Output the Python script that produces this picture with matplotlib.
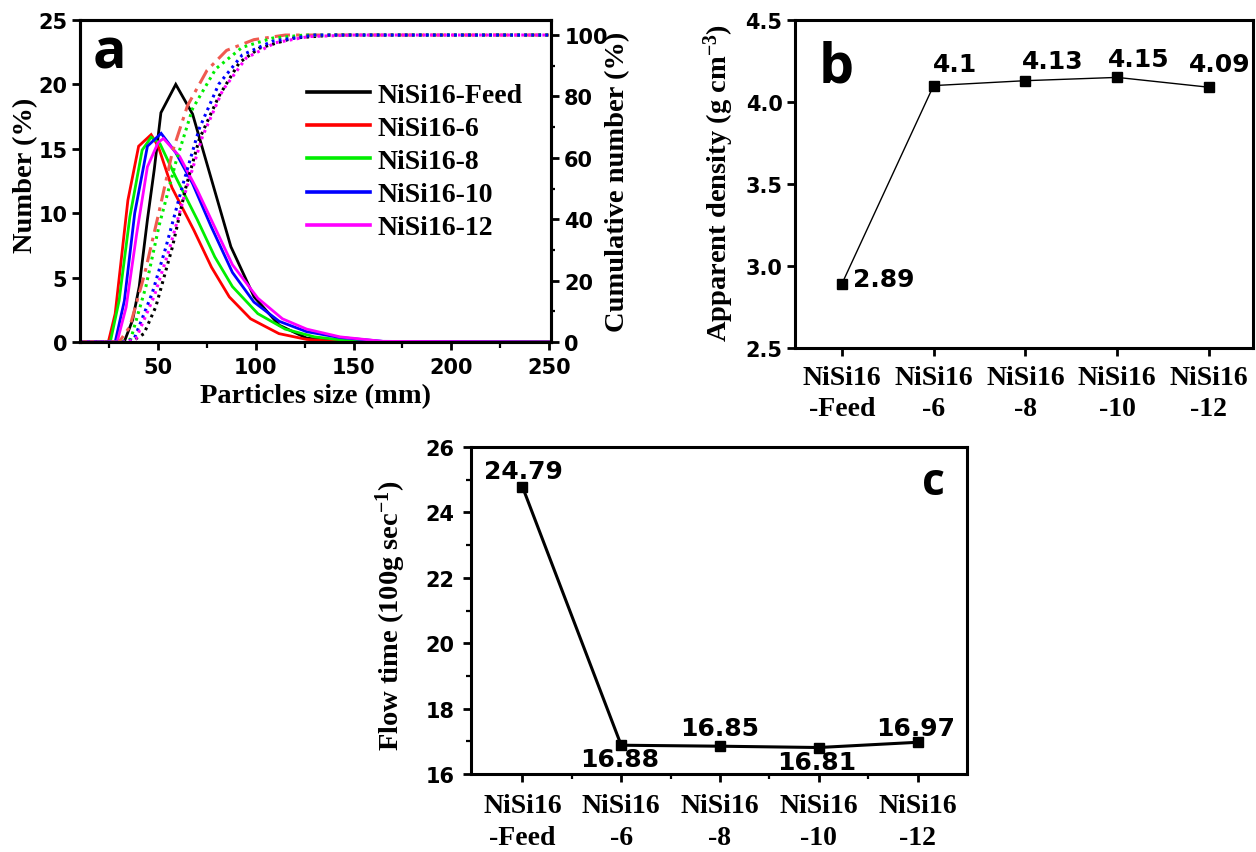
import matplotlib
matplotlib.use('Agg')
import matplotlib.pyplot as plt
from matplotlib.lines import Line2D

plt.rcParams['mathtext.default'] = 'regular'

# ---------------- Panel a data: number distribution (%) ----------------
size_feed = [10, 32.6, 36.9, 40.3, 44.5, 48, 51.4, 59, 67.6, 87.2, 99.1, 112, 126, 145, 250]
num_feed = [0, 0, 1.7, 4.3, 9.5, 13.4, 17.8, 20.0, 17.7, 7.4, 3.5, 1.3, 0.3, 0, 0]

size_6 = [10, 24.5, 28, 34.5, 40, 46.4, 50, 57, 68.2, 77.3, 86.4, 97.3, 111.8, 126, 145, 250]
num_6 = [0, 0, 2.2, 11.0, 15.2, 16.1, 15.2, 12.0, 8.7, 5.8, 3.5, 1.8, 0.65, 0.2, 0, 0]

size_8 = [10, 25.5, 30, 35.5, 41.8, 46.4, 50.9, 59, 70, 79, 88, 101, 115, 130, 150, 250]
num_8 = [0, 0, 3.2, 9.7, 14.9, 15.9, 15.4, 12.8, 9.5, 6.6, 4.3, 2.2, 1.0, 0.4, 0.05, 0]

size_10 = [10, 28, 32.7, 38, 44.5, 51.5, 59, 67.6, 77, 88, 99, 112, 126, 143, 165, 250]
num_10 = [0, 0, 3.2, 10.0, 15.2, 16.2, 14.7, 12.3, 9.0, 5.4, 3.1, 1.6, 0.8, 0.35, 0.05, 0]

size_12 = [10, 29, 33.6, 39, 44.5, 50, 52.7, 61, 70, 79, 88, 101, 113.6, 126, 143, 165, 250]
num_12 = [0, 0, 2.7, 8.4, 13.6, 15.5, 15.8, 14.4, 11.8, 8.9, 6.0, 3.4, 1.8, 1.0, 0.4, 0.05, 0]

# ---------------- Panel a data: cumulative number (%) ----------------
csize_feed = [10, 36, 42.7, 48.8, 57.3, 64, 71, 81, 91.5, 101.7, 119, 140, 250]
cum_feed = [0, 0, 2.7, 11.5, 31, 50, 66, 80, 91, 95.7, 99, 100, 100]

csize_6 = [10, 30, 35.5, 43, 50.3, 57.3, 65, 75, 85, 99, 115, 250]
cum_6 = [0, 0, 5, 22, 42, 62, 77, 88.5, 95, 98.5, 100, 100]

csize_8 = [10, 31, 36, 43.7, 50.5, 59, 67.6, 79.5, 93, 108.5, 125, 250]
cum_8 = [0, 0, 1, 18, 38, 58.5, 76, 89, 96, 99, 100, 100]

csize_10 = [10, 33, 37.7, 47, 54, 62.5, 71, 81, 93, 108.5, 130, 250]
cum_10 = [0, 0, 1, 16, 31, 51, 69.5, 84, 93.5, 98, 100, 100]

csize_12 = [10, 34, 38.6, 48, 55.6, 64, 72.7, 83, 95, 110, 127, 150, 250]
cum_12 = [0, 0, 1, 15, 30, 49, 67, 82, 92.5, 97.5, 99.5, 100, 100]

series_names = ['NiSi16-Feed', 'NiSi16-6', 'NiSi16-8', 'NiSi16-10', 'NiSi16-12']

x_ticks_a = [50, 100, 150, 200, 250]
y_ticks_a = [0, 5, 10, 15, 20, 25]
y_ticks_cum = [0, 20, 40, 60, 80, 100]

# ---------------- Panels b and c data ----------------
categories = ['NiSi16\n-Feed', 'NiSi16\n-6', 'NiSi16\n-8', 'NiSi16\n-10', 'NiSi16\n-12']
density = [2.89, 4.10, 4.13, 4.15, 4.09]
density_text = ['2.89', '4.1', '4.13', '4.15', '4.09']
flow = [24.79, 16.88, 16.85, 16.81, 16.97]
flow_text = ['24.79', '16.88', '16.85', '16.81', '16.97']
y_ticks_b = [2.5, 3.0, 3.5, 4.0, 4.5]
y_ticks_c = [16, 18, 20, 22, 24, 26]

# ---------------- Styles ----------------
W, H = 1256, 853
SERIF = dict(family='Liberation Serif', weight='bold')
NUM = dict(family='DejaVu Sans', weight='bold')
LETTER = dict(family='Open Sans', weight='bold')

fig = plt.figure(figsize=(W / 100, H / 100), dpi=100)


def px_axes(l, t, r, b):
    return fig.add_axes([l / W, 1 - b / H, (r - l) / W, (b - t) / H])


def style_spines(ax, lw=2.2):
    for s in ax.spines.values():
        s.set_linewidth(lw)


# ================= Panel a =================
axa = px_axes(80, 21, 551, 343)
axc2 = axa.twinx()
colors = ['black', '#ff0000', '#00ee00', '#0000ff', '#ff00ff']
sizes = [size_feed, size_6, size_8, size_10, size_12]
nums = [num_feed, num_6, num_8, num_10, num_12]
csizes = [csize_feed, csize_6, csize_8, csize_10, csize_12]
cums = [cum_feed, cum_6, cum_8, cum_10, cum_12]

for xs, ys, c in zip(sizes, nums, colors):
    axa.plot(xs, ys, color=c, lw=2.0, solid_joinstyle='miter')

for i, (xs, ys, c) in enumerate(zip(csizes, cums, colors)):
    if i == 1:
        axc2.plot(xs, ys, color='#f05a50', lw=2.2, linestyle=(0, (5, 2, 1.2, 2)))
    else:
        axc2.plot(xs, ys, color=c, lw=2.2, linestyle=(0, (0.9, 1.4)))

axa.set_xlim(10, 251)
axa.set_ylim(0, 25)
axc2.set_ylim(0, 104.9)

axa.set_xticks(x_ticks_a, labels=[str(v) for v in x_ticks_a], fontsize=15, **NUM)
axa.set_xticks([25, 75, 125, 175, 225], minor=True)
axa.set_yticks(y_ticks_a, labels=[str(v) for v in y_ticks_a], fontsize=15, **NUM)
axc2.set_yticks(y_ticks_cum, labels=[str(v) for v in y_ticks_cum], fontsize=15, **NUM)
axc2.set_yticks([10, 30, 50, 70, 90], minor=True)

axa.tick_params(axis='both', which='major', direction='out', length=6, width=2, pad=3)
axa.tick_params(axis='x', which='minor', direction='out', length=4, width=1.6)
axa.tick_params(axis='x', pad=5)
axc2.tick_params(axis='y', which='major', direction='out', length=6, width=2, pad=3.5)
axc2.tick_params(axis='y', which='minor', direction='out', length=3, width=1.6)
style_spines(axa)
style_spines(axc2)

axa.set_xlabel('Particles size (mm)', fontsize=20.5, **SERIF)
axa.xaxis.set_label_coords(0.5, -0.165)
axa.xaxis.label.set_va('center')
axa.set_ylabel('Number (%)', fontsize=20.5, **SERIF)
axa.yaxis.set_label_coords(-0.116, 0.52)
axa.yaxis.label.set_va('center')
axc2.set_ylabel('Cumulative number (%)', fontsize=20.5, **SERIF)
axc2.yaxis.set_label_coords(1.142, 0.5)
axc2.yaxis.label.set_va('center')

handles = [Line2D([], [], color=c, lw=2.6) for c in colors]
axc2.legend(handles, series_names, loc='upper left', bbox_to_anchor=(0.4825, 0.807),
            frameon=False, borderpad=0, borderaxespad=0, handlelength=2.27,
            handletextpad=0.25, labelspacing=0.28,
            prop=dict(family='Liberation Serif', weight='bold', size=20))

axa.text(0.063, 0.8536, 'a', transform=axa.transAxes, ha='center', va='baseline',
         fontsize=40, **LETTER)

# ================= Panel b =================
axb = px_axes(795, 21, 1253, 349)
xb = list(range(len(categories)))
axb.plot(xb, density, color='black', lw=1.0, marker='s', markersize=7, zorder=3)
axb.set_xlim(-0.51, 4.48)
axb.set_ylim(2.5, 4.5)
axb.set_yticks(y_ticks_b, labels=['%.1f' % v for v in y_ticks_b], fontsize=15, **NUM)
axb.set_xticks(xb, labels=categories, fontsize=20, linespacing=1.32, **SERIF)
axb.tick_params(axis='both', direction='out', length=6, width=2)
axb.tick_params(axis='y', pad=3)
axb.tick_params(axis='x', pad=6)
style_spines(axb)
axb.set_ylabel('Apparent density (g cm$^{-3}$)', fontsize=20.5, **SERIF)
axb.yaxis.set_label_coords(-0.166, 0.505)
axb.yaxis.label.set_va('center')

b_offsets = [(42, 5), (21, 22), (27, 20), (22, 18), (11, 23)]
for xi, yi, t, off in zip(xb, density, density_text, b_offsets):
    axb.annotate(t, (xi, yi), xytext=off, textcoords='offset pixels',
                 ha='center', va='center', fontsize=18, **NUM)

axb.text(0.0895, 0.814, 'b', transform=axb.transAxes, ha='center', va='baseline',
         fontsize=40, **LETTER)

# ================= Panel c =================
axc = px_axes(471, 448, 967, 775)
xc = list(range(len(categories)))
axc.plot(xc, flow, color='black', lw=2.2, marker='s', markersize=7, zorder=3)
axc.set_xlim(-0.52, 4.5)
axc.set_ylim(16, 26)
axc.set_yticks(y_ticks_c, labels=[str(v) for v in y_ticks_c], fontsize=15, **NUM)
axc.set_yticks([17, 19, 21, 23, 25], minor=True)
axc.set_xticks(xc, labels=categories, fontsize=20, linespacing=1.35, **SERIF)
axc.set_xticks([0.5, 1.5, 2.5, 3.5], minor=True)
axc.tick_params(axis='both', which='major', direction='out', length=6, width=2)
axc.tick_params(axis='both', which='minor', direction='out', length=3.5, width=1.6)
axc.tick_params(axis='y', pad=6)
axc.tick_params(axis='x', pad=8)
style_spines(axc)
axc.set_ylabel('Flow time (100g sec$^{-1}$)', fontsize=20.5, **SERIF)
axc.yaxis.set_label_coords(-0.161, 0.486)
axc.yaxis.label.set_va('center')

c_offsets = [(1, 16), (-2, -14), (0, 18), (-2, -14), (-2, 14)]
for xi, yi, t, off in zip(xc, flow, flow_text, c_offsets):
    axc.annotate(t, (xi, yi), xytext=off, textcoords='offset pixels',
                 ha='center', va='center', fontsize=18, **NUM)

axc.text(0.933, 0.856, 'c', transform=axc.transAxes, ha='center', va='baseline',
         fontsize=32, **LETTER)

fig.savefig('out.png', dpi=100)
